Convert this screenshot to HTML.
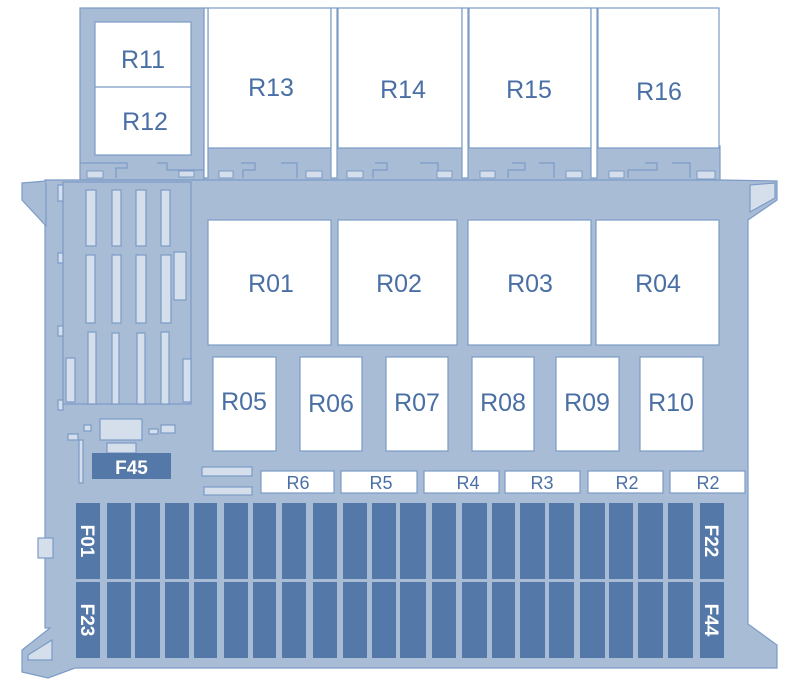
<!DOCTYPE html>
<html><head><meta charset="utf-8"><style>
html,body{margin:0;padding:0;background:#fff;width:796px;height:692px;overflow:hidden}
svg{display:block}
text{font-family:"Liberation Sans",sans-serif}
</style></head><body>
<svg width="796" height="692" viewBox="0 0 796 692" xmlns="http://www.w3.org/2000/svg">
<g stroke="#7b9bc6" stroke-width="1.2">
<rect x="80" y="8" width="124" height="172" fill="#a9bcd6"/>
<rect x="204" y="146" width="516" height="36" fill="#a9bcd6"/>
<polygon fill="#a9bcd6" points="45,180 720,180 777,181 777,200 748,220 748,624 777,645 777,668 75,668 48,678 22,672 22,650 50,628 45,628"/>
<polygon fill="#a9bcd6" points="22,183 46,181 46,226 22,200"/>
<polygon fill="#d5dfeb" points="750,185 775,183 775,198 750,212"/>
<polygon fill="#d5dfeb" points="28,655 52,640 52,660 28,660"/>
</g>
<rect x="46" y="181" width="700" height="2" fill="#a9bcd6"/>
<g fill="#fff" stroke="#7b9bc6" stroke-width="1.2">
<rect x="95" y="22" width="96" height="133"/>
<line x1="95" y1="87" x2="191" y2="87"/>
<rect x="208" y="8" width="123" height="140"/>
<rect x="338" y="8" width="124" height="140"/>
<rect x="469" y="8" width="122" height="140"/>
<rect x="598" y="8" width="121" height="140"/>
<rect x="204" y="8" width="4" height="170"/>
<rect x="331" y="8" width="6" height="170"/>
<rect x="462" y="8" width="6" height="170"/>
<rect x="591" y="8" width="6" height="170"/>
</g>
<g fill="none" stroke="#7b9bc6" stroke-width="1.2">
<path d="M80 163 H127 V168 H116 V178"/><path d="M157 163 H167 V170 H204"/>
<path d="M241 163 H255 V170 H243 V178"/><path d="M281 163 H297 V178"/>
<path d="M375 163 H387 V170 H373 V178"/><path d="M420 163 H438 V178"/>
<path d="M512 163 H525 V170 H508 V178"/><path d="M539 163 H554 V178"/>
<path d="M645 163 H657 V170 H628 V178"/><path d="M672 163 H690 V178"/>
</g>
<g fill="#d5dfeb" stroke="#7b9bc6" stroke-width="1">
<rect x="87" y="171" width="16" height="7"/><rect x="179" y="171" width="15" height="6"/>
<rect x="219" y="171" width="14" height="7"/><rect x="306" y="171" width="16" height="7"/>
<rect x="347" y="171" width="16" height="7"/><rect x="437" y="171" width="15" height="7"/>
<rect x="480" y="171" width="15" height="7"/><rect x="566" y="171" width="16" height="7"/>
<rect x="609" y="171" width="15" height="7"/><rect x="697" y="171" width="18" height="8"/>
</g>
<g stroke="#7b9bc6" stroke-width="1.2">
<rect x="63" y="182" width="128" height="222" fill="#a9bcd6"/>
<g fill="#d5dfeb">
<rect x="86" y="190" width="10" height="56"/><rect x="112" y="190" width="9" height="56"/><rect x="136" y="190" width="10" height="56"/><rect x="161" y="190" width="9" height="56"/>
<rect x="86" y="255" width="9" height="68"/><rect x="112" y="255" width="9" height="68"/><rect x="136" y="255" width="10" height="68"/><rect x="161" y="255" width="10" height="68"/>
<rect x="174" y="252" width="12" height="48"/>
<rect x="88" y="332" width="8" height="72"/><rect x="112" y="333" width="7" height="71"/><rect x="137" y="333" width="8" height="71"/><rect x="161" y="332" width="8" height="72"/>
<rect x="66" y="358" width="9" height="44"/><rect x="183" y="359" width="8" height="43"/>
<rect x="58" y="185" width="5" height="16"/><rect x="58" y="253" width="5" height="10"/><rect x="58" y="326" width="5" height="10"/><rect x="58" y="400" width="5" height="10"/>
<rect x="100" y="419" width="42" height="21"/><rect x="84" y="425" width="7" height="6"/><rect x="149" y="429" width="9" height="5"/><rect x="161" y="425" width="14" height="8"/>
<rect x="68" y="434" width="10" height="6"/><rect x="79" y="440" width="4" height="43"/>
<rect x="107" y="443" width="29" height="10"/>
<rect x="202" y="467" width="50" height="9"/><rect x="204" y="487" width="48" height="8"/>
<rect x="38" y="538" width="15" height="20"/>
</g>
</g>
<rect x="92" y="453" width="79" height="26" fill="#5478a8"/>
<text x="131.5" y="474" font-size="19" font-weight="bold" fill="#fff" text-anchor="middle">F45</text>
<g fill="#fff" stroke="#7b9bc6" stroke-width="1.2">
<rect x="208" y="220" width="123" height="125"/><rect x="338" y="220" width="119" height="125"/>
<rect x="468" y="220" width="123" height="125"/><rect x="596" y="220" width="123" height="125"/>
<rect x="213" y="357" width="63" height="94"/><rect x="300" y="357" width="62" height="94"/>
<rect x="386" y="357" width="62" height="94"/><rect x="472" y="357" width="62" height="94"/>
<rect x="556" y="357" width="63" height="94"/><rect x="640" y="357" width="63" height="94"/>
<rect x="261" y="471" width="73" height="22"/><rect x="341" y="471" width="76" height="22"/>
<rect x="424" y="471" width="75" height="22"/><rect x="505" y="471" width="75" height="22"/>
<rect x="588" y="471" width="75" height="22"/><rect x="670" y="471" width="75" height="22"/>
</g>
<g fill="#4a6fa5" text-anchor="middle" font-size="25">
<text x="143" y="68">R11</text><text x="145" y="130">R12</text>
<text x="271" y="96">R13</text><text x="403" y="98">R14</text><text x="529" y="98">R15</text><text x="659" y="100">R16</text>
<text x="271" y="292">R01</text><text x="399" y="292">R02</text><text x="530" y="292">R03</text><text x="658" y="292">R04</text>
<text x="244" y="410">R05</text><text x="331" y="412">R06</text><text x="417" y="411">R07</text><text x="503" y="411">R08</text><text x="587" y="411">R09</text><text x="671" y="411">R10</text>
<g font-size="18"><text x="298" y="489">R6</text><text x="381" y="489">R5</text><text x="468" y="489">R4</text><text x="542" y="489">R3</text><text x="627" y="489">R2</text><text x="708" y="489">R2</text></g>
</g>
<g fill="#5478a8">
<rect x="76" y="503" width="24" height="76"/><rect x="76" y="582" width="24" height="76"/>
<rect x="700" y="503" width="24" height="76"/><rect x="700" y="582" width="24" height="76"/>
</g>
<g fill="#5478a8" id="cols">
<rect x="107" y="503" width="24" height="76"/><rect x="135" y="503" width="25" height="76"/><rect x="165" y="503" width="24" height="76"/><rect x="194" y="503" width="23" height="76"/>
<rect x="224" y="503" width="24" height="76"/><rect x="253" y="503" width="23" height="76"/><rect x="282" y="503" width="24" height="76"/><rect x="313" y="503" width="24" height="76"/>
<rect x="343" y="503" width="24" height="76"/><rect x="372" y="503" width="24" height="76"/><rect x="400" y="503" width="26" height="76"/><rect x="432" y="503" width="24" height="76"/>
<rect x="462" y="503" width="25" height="76"/><rect x="492" y="503" width="23" height="76"/><rect x="520" y="503" width="25" height="76"/><rect x="549" y="503" width="25" height="76"/>
<rect x="580" y="503" width="25" height="76"/><rect x="609" y="503" width="24" height="76"/><rect x="638" y="503" width="25" height="76"/><rect x="668" y="503" width="25" height="76"/>
</g>
<use href="#cols" y="79"/>
<g fill="#fff" font-size="19" font-weight="bold" text-anchor="middle">
<text transform="translate(81,541) rotate(90)">F01</text>
<text transform="translate(81,620) rotate(90)">F23</text>
<text transform="translate(705,541) rotate(90)">F22</text>
<text transform="translate(705,620) rotate(90)">F44</text>
</g>
</svg>
</body></html>
